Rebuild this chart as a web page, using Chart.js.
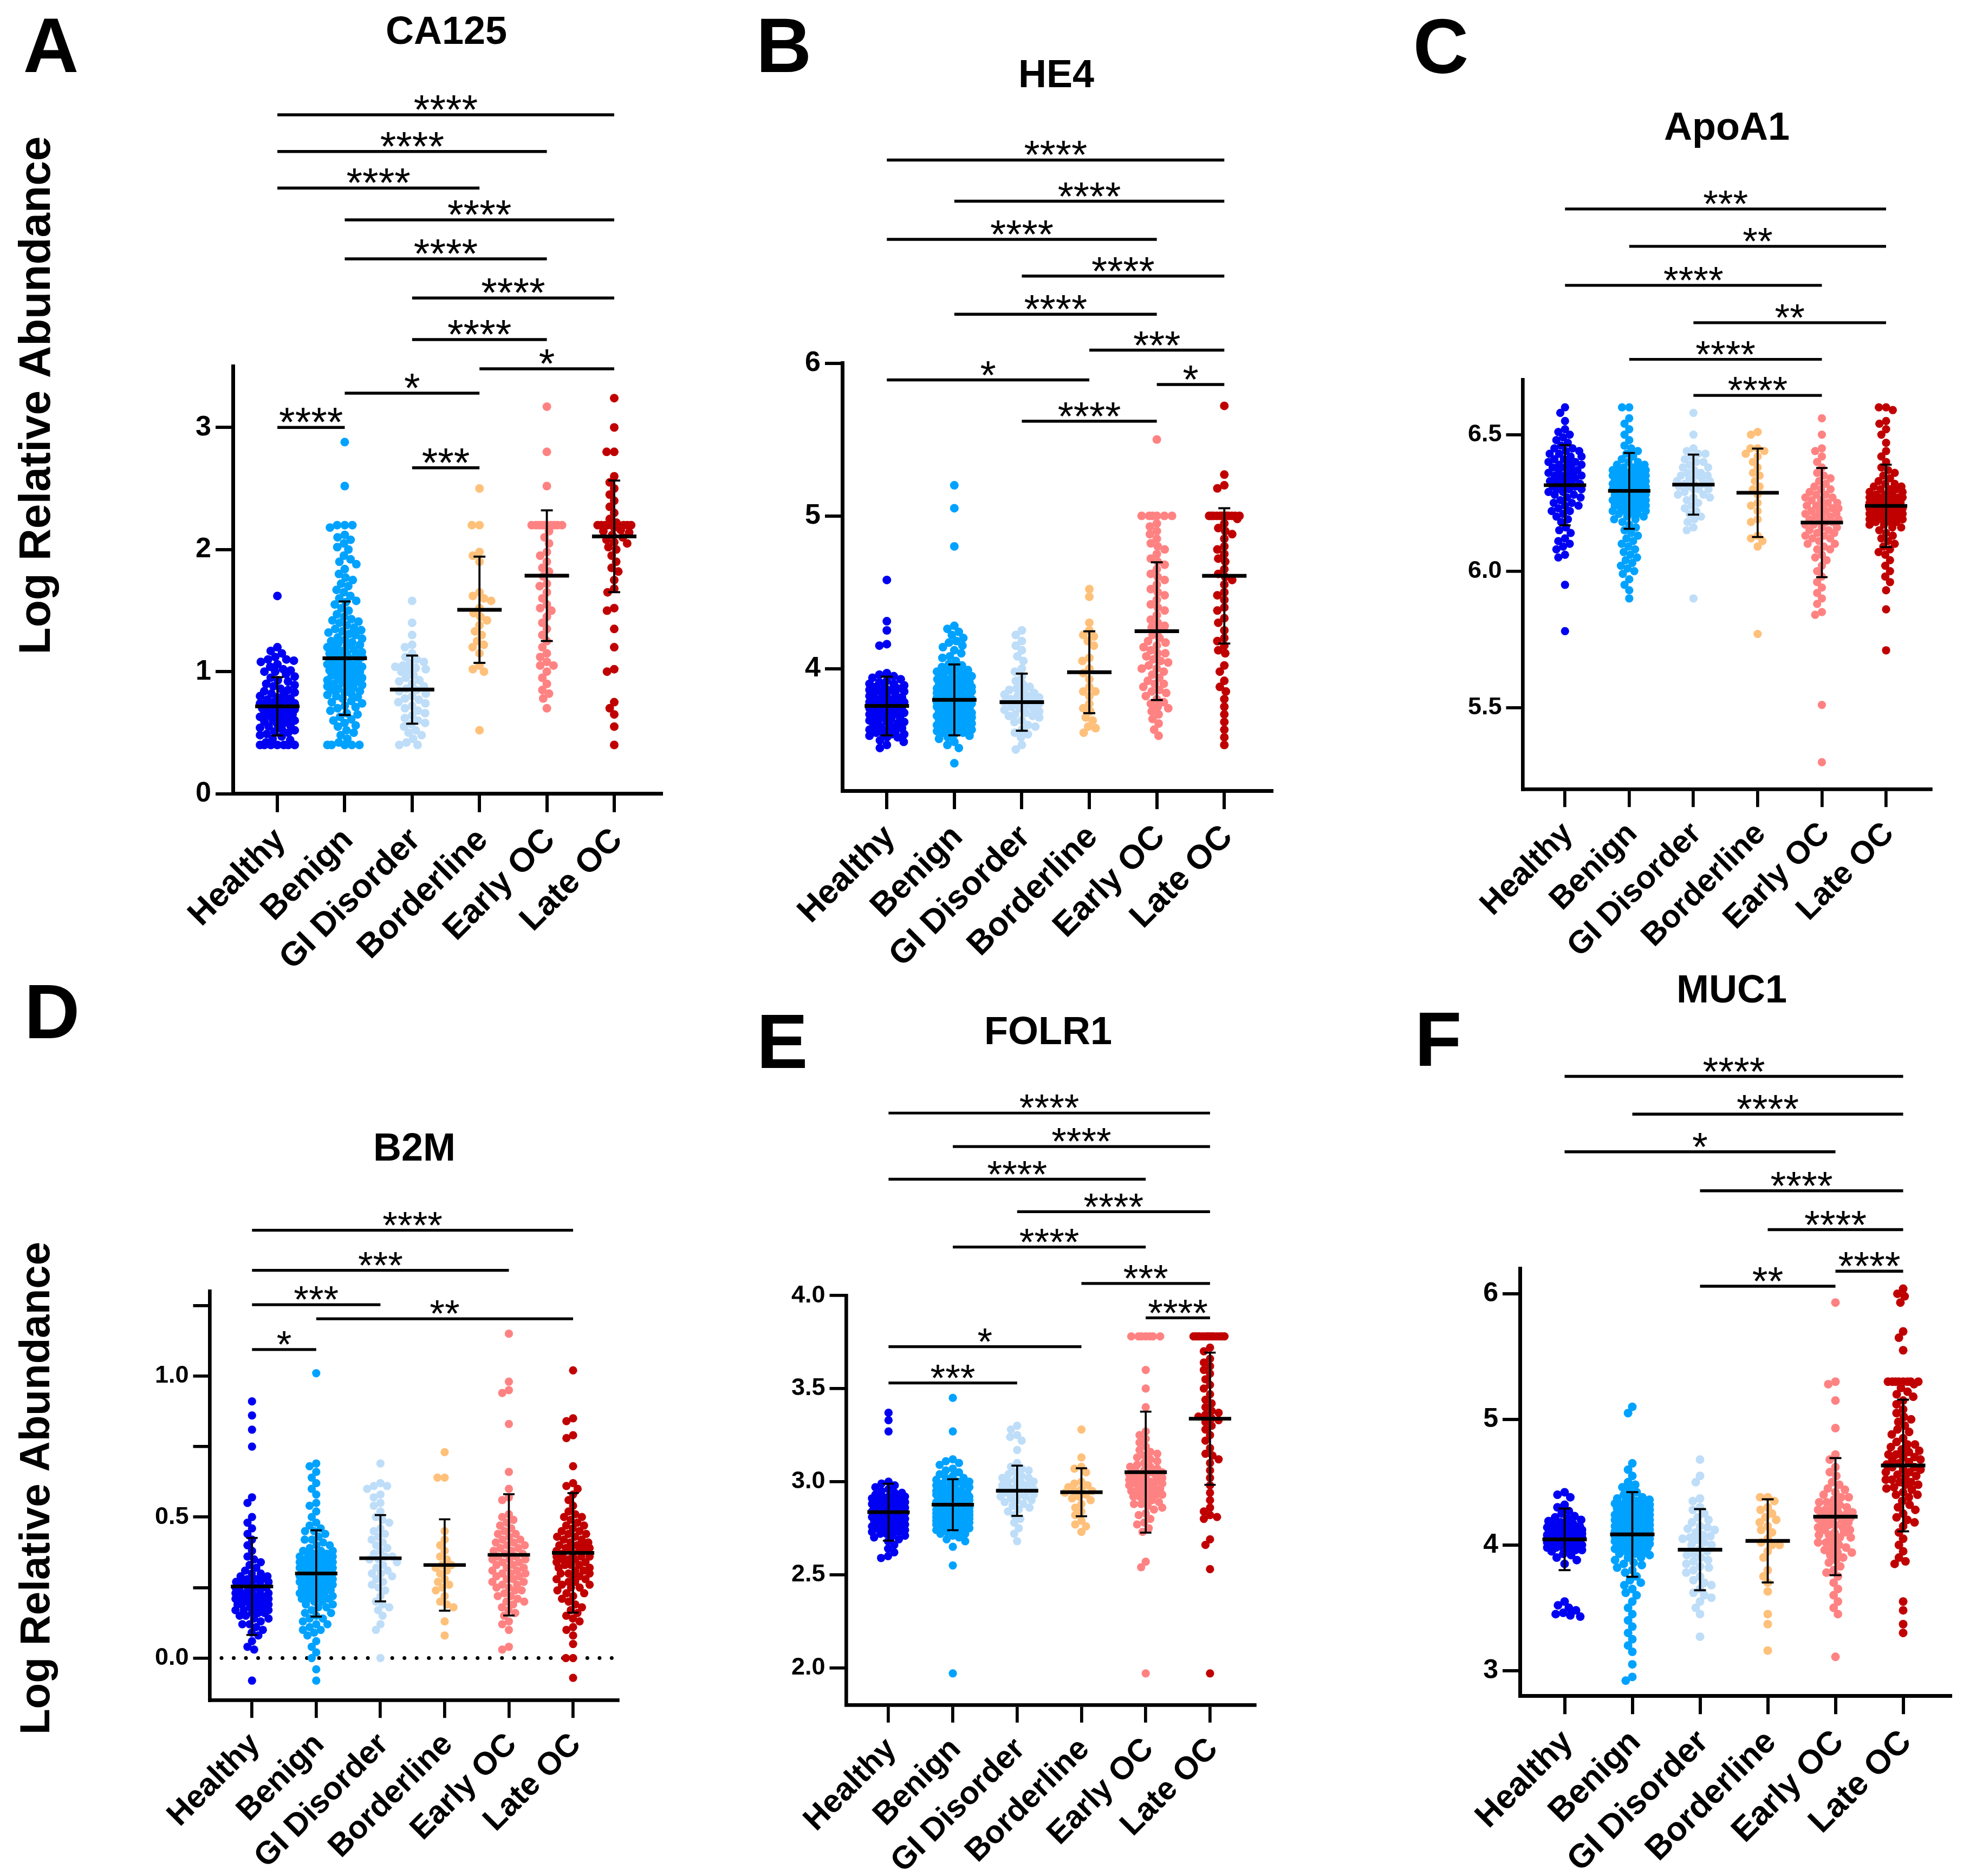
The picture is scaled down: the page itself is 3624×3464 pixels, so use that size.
<!DOCTYPE html>
<html><head><meta charset="utf-8">
<script src="https://cdn.jsdelivr.net/npm/chart.js@4.4.1/dist/chart.umd.min.js"></script>
<style>
html,body{margin:0;padding:0;background:#fff;}
#page{position:relative;width:3624px;height:3464px;background:#fff;overflow:hidden;}
#page canvas{position:absolute;}
</style></head><body><div id="page"></div>
<script>
const categories = ['Healthy','Benign','GI Disorder','Borderline','Early OC','Late OC'];
const groupColors = ['#0000F2','#00A2FF','#BEDDF8','#FFC07A','#FF8282','#C00000'];

// ---------- CA125 ----------
const ca125Healthy = [0.40,0.40,0.40,0.40,0.40,0.40,0.40,0.42,0.44,0.45,0.47,0.48,0.49,0.50,0.51,0.52,0.53,0.54,0.55,0.56,0.57,0.58,0.59,0.60,0.60,0.61,0.62,0.63,0.64,0.65,0.65,0.66,0.67,0.68,0.68,0.69,0.70,0.70,0.71,0.72,0.72,0.73,0.74,0.75,0.76,0.77,0.78,0.79,0.80,0.81,0.82,0.83,0.84,0.85,0.86,0.88,0.89,0.90,0.92,0.93,0.95,0.96,0.98,1.00,1.00,1.01,1.02,1.04,1.06,1.08,1.09,1.10,1.10,1.12,1.15,1.17,1.20,0.74,0.66,1.62];
const ca125Benign = [0.40,0.40,0.40,0.40,0.40,0.42,0.45,0.48,0.50,0.52,0.55,0.56,0.58,0.60,0.61,0.63,0.65,0.66,0.68,0.70,0.71,0.72,0.74,0.75,0.76,0.78,0.79,0.80,0.81,0.82,0.84,0.85,0.86,0.87,0.88,0.89,0.90,0.91,0.92,0.93,0.94,0.95,0.96,0.97,0.98,0.99,1.00,1.01,1.02,1.03,1.04,1.05,1.06,1.07,1.08,1.09,1.10,1.11,1.12,1.13,1.14,1.15,1.16,1.17,1.18,1.19,1.20,1.21,1.22,1.23,1.24,1.25,1.26,1.27,1.28,1.30,1.31,1.32,1.33,1.34,1.35,1.36,1.38,1.40,1.41,1.42,1.43,1.45,1.47,1.50,1.52,1.55,1.57,1.58,1.60,1.62,1.65,1.67,1.70,1.72,1.75,1.77,1.80,1.84,1.88,1.90,1.92,1.95,2.00,2.02,2.05,2.08,2.10,2.12,2.18,2.20,2.20,2.20,2.52,2.88,0.83,0.92,1.00,1.06,1.12,0.95,1.03,0.88,1.15];
const ca125GI = [0.40,0.40,0.42,0.45,0.48,0.50,0.52,0.55,0.57,0.58,0.60,0.62,0.64,0.66,0.68,0.70,0.72,0.74,0.75,0.77,0.78,0.80,0.82,0.84,0.85,0.86,0.88,0.90,0.92,0.93,0.95,0.97,1.00,1.01,1.02,1.03,1.04,1.05,1.07,1.08,1.10,1.12,1.15,1.20,1.22,1.30,1.40,1.58];
const ca125Border = [0.52,1.00,1.02,1.05,1.15,1.20,1.22,1.25,1.30,1.33,1.38,1.42,1.45,1.48,1.52,1.58,1.60,1.62,1.65,1.90,1.95,1.98,2.20,2.20,2.50];
const ca125Early = [0.70,0.78,0.82,0.85,0.90,0.95,1.00,1.05,1.05,1.08,1.12,1.15,1.20,1.25,1.30,1.35,1.40,1.45,1.50,1.52,1.55,1.60,1.65,1.70,1.72,1.78,1.82,1.85,1.90,1.95,1.98,2.05,2.10,2.15,2.20,2.20,2.20,2.20,2.20,2.20,2.20,2.20,2.20,2.20,2.52,2.80,3.17];
const ca125Late = [0.40,0.55,0.65,0.70,0.75,1.00,1.02,1.20,1.35,1.50,1.52,1.65,1.68,1.75,1.82,1.85,1.90,1.95,2.00,2.02,2.05,2.06,2.08,2.10,2.12,2.14,2.15,2.16,2.18,2.20,2.20,2.20,2.20,2.20,2.20,2.20,2.20,2.20,2.22,2.25,2.30,2.35,2.40,2.45,2.50,2.55,2.60,2.80,2.80,3.00,3.24];
const ca125Means = [0.716,1.110,0.853,1.507,1.786,2.108];
const ca125SD = [0.239,0.465,0.279,0.435,0.535,0.457];
const ca125Brackets = [[0,5,5.56,'****'],[0,4,5.26,'****'],[0,3,4.96,'****'],[1,5,4.70,'****'],[1,4,4.38,'****'],[2,5,4.06,'****'],[2,4,3.72,'****'],[3,5,3.48,'*'],[1,3,3.28,'*'],[0,1,3.00,'****'],[2,3,2.67,'***']];
const ca125Ticks = [0,1,2,3];

// ---------- HE4 ----------
const he4Healthy = [3.48,3.50,3.52,3.53,3.55,3.55,3.56,3.57,3.58,3.58,3.59,3.60,3.60,3.61,3.62,3.63,3.64,3.65,3.65,3.66,3.67,3.68,3.68,3.69,3.70,3.70,3.71,3.72,3.72,3.73,3.74,3.74,3.75,3.75,3.76,3.76,3.77,3.78,3.78,3.79,3.80,3.80,3.81,3.82,3.82,3.83,3.84,3.85,3.85,3.86,3.87,3.88,3.88,3.89,3.90,3.90,3.91,3.92,3.93,3.94,3.95,3.96,3.97,3.76,3.74,3.78,3.80,3.72,3.70,3.68,3.66,3.84,3.86,4.15,4.16,4.25,4.31,4.58,3.62,3.57];
const he4Benign = [3.38,3.48,3.50,3.52,3.54,3.55,3.56,3.57,3.58,3.59,3.60,3.60,3.61,3.62,3.62,3.63,3.64,3.64,3.65,3.66,3.66,3.67,3.68,3.68,3.69,3.70,3.70,3.70,3.71,3.72,3.72,3.73,3.73,3.74,3.74,3.75,3.75,3.76,3.76,3.77,3.77,3.78,3.78,3.79,3.79,3.80,3.80,3.80,3.81,3.81,3.82,3.82,3.83,3.83,3.84,3.84,3.85,3.85,3.86,3.86,3.87,3.87,3.88,3.88,3.89,3.90,3.90,3.91,3.92,3.93,3.94,3.95,3.96,3.97,3.98,3.99,4.00,4.01,4.02,4.03,4.05,4.07,4.08,4.10,4.12,4.14,4.15,4.17,4.18,4.20,4.22,4.24,4.26,4.28,4.80,5.05,5.20,3.62,3.65,3.68,3.71,3.74,3.77,3.80,3.83,3.86,3.89,3.92,3.58,3.61,3.64,3.67,3.70,3.73,3.76,3.79,3.82,3.85,3.88,3.91,3.94,3.97,3.59,3.63,3.69,3.75,3.81,3.87,3.93,3.99];
const he4GI = [3.47,3.50,3.55,3.57,3.58,3.60,3.62,3.63,3.65,3.66,3.68,3.69,3.70,3.71,3.72,3.73,3.74,3.75,3.76,3.77,3.78,3.78,3.79,3.80,3.80,3.81,3.82,3.83,3.84,3.85,3.86,3.87,3.88,3.90,3.92,3.95,3.98,4.00,4.05,4.08,4.12,4.15,4.18,4.22,4.25,3.74,3.82,3.69];
const he4Border = [3.58,3.61,3.62,3.66,3.68,3.72,3.74,3.77,3.82,3.85,3.85,3.88,3.93,3.97,4.00,4.05,4.07,4.15,4.18,4.21,4.22,4.25,4.30,4.47,4.52];
const he4Early = [3.56,3.60,3.64,3.67,3.70,3.72,3.74,3.75,3.77,3.80,3.82,3.84,3.85,3.86,3.88,3.90,3.92,3.94,3.96,3.98,4.00,4.02,4.04,4.05,4.06,4.08,4.10,4.12,4.14,4.15,4.17,4.18,4.20,4.22,4.25,4.27,4.30,4.32,4.35,4.38,4.40,4.42,4.45,4.48,4.50,4.52,4.55,4.58,4.60,4.62,4.65,4.68,4.70,4.72,4.75,4.78,4.80,4.82,4.85,4.88,4.90,4.93,4.95,5.00,5.00,5.00,5.00,5.00,5.00,3.78,3.90,4.00,4.10,5.50,4.28];
const he4Late = [3.50,3.55,3.60,3.65,3.70,3.75,3.80,3.85,3.88,3.92,3.98,4.02,4.10,4.12,4.15,4.18,4.20,4.25,4.30,4.33,4.38,4.40,4.45,4.48,4.50,4.55,4.58,4.60,4.62,4.65,4.70,4.72,4.75,4.78,4.80,4.85,4.88,4.90,4.92,4.95,4.98,5.00,5.00,5.00,5.00,5.00,5.00,5.00,5.00,5.00,5.00,5.00,5.00,5.18,5.20,5.27,5.72];
const he4Means = [3.755,3.795,3.780,3.976,4.245,4.607];
const he4SD = [0.192,0.232,0.187,0.268,0.451,0.443];
const he4Brackets = [[0,5,7.33,'****'],[1,5,7.06,'****'],[0,4,6.81,'****'],[2,5,6.57,'****'],[1,4,6.32,'****'],[3,5,6.085,'***'],[0,3,5.89,'*'],[4,5,5.86,'*'],[2,4,5.62,'****']];
const he4Ticks = [4,5,6];

// ---------- ApoA1 ----------
const apoHealthy = [5.78,5.95,6.05,6.06,6.08,6.09,6.10,6.11,6.12,6.14,6.15,6.16,6.18,6.19,6.20,6.21,6.22,6.23,6.24,6.25,6.25,6.26,6.27,6.28,6.28,6.29,6.30,6.30,6.30,6.31,6.31,6.32,6.32,6.33,6.33,6.34,6.34,6.35,6.35,6.36,6.36,6.37,6.37,6.38,6.38,6.39,6.39,6.40,6.40,6.41,6.41,6.42,6.42,6.43,6.43,6.44,6.44,6.45,6.45,6.46,6.47,6.48,6.49,6.50,6.51,6.52,6.55,6.58,6.60,6.33,6.29,6.31,6.35,6.38,6.27,6.24,6.22,6.36,6.40,6.32];
const apoBenign = [5.90,5.93,5.95,5.97,5.99,6.00,6.01,6.02,6.03,6.04,6.05,6.06,6.07,6.08,6.09,6.10,6.11,6.12,6.13,6.14,6.15,6.16,6.17,6.18,6.19,6.20,6.20,6.21,6.21,6.22,6.22,6.23,6.23,6.24,6.24,6.25,6.25,6.26,6.26,6.27,6.27,6.28,6.28,6.29,6.29,6.30,6.30,6.30,6.31,6.31,6.31,6.32,6.32,6.32,6.33,6.33,6.33,6.34,6.34,6.34,6.35,6.35,6.35,6.36,6.36,6.37,6.37,6.38,6.38,6.39,6.39,6.40,6.40,6.41,6.42,6.43,6.44,6.45,6.46,6.48,6.50,6.52,6.54,6.56,6.60,6.60,6.28,6.30,6.32,6.26,6.24,6.34,6.36,6.22,6.29,6.31,6.33,6.27,6.25,6.35,6.38,6.21,6.19,6.37,6.30,6.28,6.32,6.26,6.34,6.23,6.29,6.31,6.27,6.33,6.25,6.35,6.24,6.36,6.22,6.30,6.30,6.28,6.32,6.29,6.31,6.26,6.34,6.27,6.33,6.30];
const apoGI = [5.90,6.15,6.16,6.18,6.19,6.20,6.21,6.22,6.23,6.24,6.25,6.26,6.27,6.28,6.28,6.29,6.30,6.30,6.31,6.31,6.32,6.32,6.33,6.33,6.34,6.34,6.35,6.35,6.36,6.36,6.37,6.38,6.38,6.39,6.40,6.40,6.41,6.42,6.43,6.43,6.44,6.45,6.50,6.58,6.30,6.32,6.27,6.35];
const apoBorder = [5.77,6.09,6.11,6.12,6.13,6.18,6.19,6.22,6.24,6.25,6.28,6.30,6.31,6.33,6.35,6.36,6.38,6.40,6.42,6.43,6.44,6.45,6.45,6.50,6.51];
const apoEarly = [5.30,5.51,5.84,5.85,5.88,5.90,5.92,5.94,5.96,5.98,6.00,6.02,6.04,6.05,6.06,6.08,6.09,6.10,6.11,6.12,6.13,6.14,6.15,6.16,6.17,6.18,6.18,6.19,6.20,6.20,6.21,6.22,6.22,6.23,6.24,6.24,6.25,6.26,6.27,6.28,6.29,6.30,6.30,6.31,6.32,6.33,6.34,6.35,6.36,6.38,6.40,6.42,6.44,6.45,6.50,6.56,6.19,6.21,6.23,6.17,6.15,6.25,6.27,6.13,6.20,6.22,6.18,6.16,6.24,6.26,6.12,6.28,6.10,6.14,6.08];
const apoLate = [5.71,5.86,5.93,5.96,5.98,6.00,6.02,6.04,6.06,6.07,6.08,6.09,6.10,6.11,6.12,6.13,6.14,6.15,6.16,6.17,6.17,6.18,6.18,6.19,6.19,6.20,6.20,6.21,6.21,6.22,6.22,6.23,6.23,6.24,6.24,6.25,6.25,6.26,6.26,6.27,6.27,6.28,6.28,6.29,6.29,6.30,6.30,6.31,6.31,6.32,6.32,6.33,6.34,6.35,6.36,6.37,6.38,6.40,6.42,6.44,6.47,6.50,6.52,6.54,6.55,6.59,6.60,6.60,6.22,6.24,6.26,6.20,6.18,6.28,6.25,6.23,6.21,6.27,6.19,6.30,6.16,6.24,6.22,6.26,6.20,6.25,6.23,6.27,6.21,6.24];
const apoMeans = [6.315,6.294,6.317,6.287,6.178,6.239];
const apoSD = [0.147,0.139,0.110,0.162,0.200,0.151];
const apoBrackets = [[0,5,7.327,'***'],[1,5,7.19,'**'],[0,4,7.047,'****'],[2,5,6.91,'**'],[1,4,6.776,'****'],[2,4,6.644,'****']];
const apoTicks = [5.5,6.0,6.5];

// ---------- B2M ----------
const b2mHealthy = [-0.08,0.03,0.04,0.06,0.08,0.09,0.10,0.11,0.12,0.13,0.14,0.14,0.15,0.15,0.16,0.16,0.17,0.17,0.18,0.18,0.19,0.19,0.20,0.20,0.20,0.21,0.21,0.22,0.22,0.22,0.23,0.23,0.24,0.24,0.25,0.25,0.25,0.26,0.26,0.27,0.27,0.28,0.28,0.29,0.29,0.30,0.30,0.31,0.32,0.33,0.34,0.35,0.36,0.38,0.40,0.42,0.44,0.46,0.48,0.50,0.55,0.57,0.75,0.81,0.86,0.91,0.20,0.22,0.24,0.18,0.16,0.26,0.28,0.12,0.19,0.23,0.21,0.17,0.27,0.25];
const b2mBenign = [-0.08,-0.04,0.00,0.02,0.04,0.06,0.08,0.09,0.10,0.11,0.12,0.13,0.14,0.15,0.16,0.17,0.18,0.19,0.20,0.20,0.21,0.21,0.22,0.22,0.23,0.23,0.24,0.24,0.25,0.25,0.26,0.26,0.27,0.27,0.28,0.28,0.29,0.29,0.30,0.30,0.30,0.31,0.31,0.32,0.32,0.33,0.33,0.34,0.34,0.35,0.35,0.36,0.36,0.37,0.37,0.38,0.38,0.39,0.40,0.41,0.42,0.43,0.44,0.45,0.46,0.48,0.50,0.52,0.54,0.55,0.58,0.60,0.62,0.64,0.66,0.68,0.69,1.01,0.27,0.29,0.31,0.33,0.25,0.23,0.35,0.21,0.37,0.19,0.26,0.28,0.30,0.32,0.24,0.34,0.22,0.36,0.18,0.27,0.29,0.31,0.33,0.25,0.28,0.30,0.32,0.26,0.24,0.34,0.29,0.31,0.27,0.35,0.23,0.33,0.21,0.38,0.14,0.12,0.16,0.10,0.45,0.47,0.40,0.42,0.28,0.30,0.26,0.32,0.29,0.31];
const b2mGI = [0.00,0.10,0.12,0.15,0.17,0.18,0.19,0.20,0.22,0.24,0.25,0.26,0.27,0.28,0.29,0.30,0.31,0.32,0.33,0.34,0.35,0.35,0.36,0.37,0.38,0.39,0.40,0.41,0.42,0.43,0.44,0.45,0.46,0.48,0.49,0.50,0.52,0.54,0.55,0.57,0.58,0.60,0.61,0.61,0.62,0.69,0.30,0.36];
const b2mBorder = [0.08,0.13,0.18,0.19,0.20,0.22,0.24,0.25,0.26,0.27,0.28,0.30,0.31,0.32,0.33,0.35,0.36,0.38,0.40,0.42,0.45,0.64,0.64,0.73,0.33];
const b2mEarly = [0.03,0.04,0.10,0.12,0.13,0.15,0.16,0.17,0.18,0.19,0.20,0.21,0.22,0.23,0.24,0.25,0.26,0.27,0.28,0.29,0.30,0.30,0.31,0.32,0.33,0.34,0.35,0.35,0.36,0.37,0.38,0.39,0.40,0.41,0.42,0.43,0.44,0.45,0.46,0.47,0.48,0.49,0.50,0.51,0.56,0.57,0.60,0.66,0.83,0.94,0.95,0.98,1.15,0.32,0.34,0.36,0.28,0.26,0.38,0.40,0.24,0.22,0.42,0.44,0.20,0.30,0.33,0.37,0.27,0.35,0.29,0.31,0.39,0.25,0.41];
const b2mLate = [-0.07,0.00,0.00,0.05,0.08,0.10,0.11,0.13,0.14,0.15,0.16,0.17,0.18,0.19,0.20,0.21,0.22,0.23,0.24,0.25,0.26,0.27,0.28,0.29,0.30,0.30,0.31,0.32,0.33,0.34,0.35,0.35,0.36,0.37,0.38,0.38,0.39,0.40,0.40,0.41,0.42,0.43,0.44,0.45,0.46,0.47,0.48,0.49,0.50,0.50,0.51,0.52,0.54,0.56,0.58,0.60,0.61,0.62,0.68,0.78,0.79,0.84,0.85,1.02,0.33,0.35,0.37,0.31,0.29,0.39,0.41,0.27,0.43,0.25,0.45,0.23,0.47,0.36,0.34,0.38,0.32,0.40,0.30,0.42,0.28,0.44,0.26,0.36,0.33,0.39];
const b2mMeans = [0.254,0.300,0.354,0.330,0.366,0.373];
const b2mSD = [0.172,0.153,0.153,0.162,0.215,0.212];
const b2mBrackets = [[0,5,1.517,'****'],[0,4,1.375,'***'],[0,2,1.253,'***'],[1,5,1.203,'**'],[0,1,1.094,'*']];
const b2mTicks = [0,0.25,0.5,0.75,1.0,1.25];

// ---------- FOLR1 ----------
const folrHealthy = [2.59,2.60,2.62,2.64,2.66,2.68,2.69,2.70,2.71,2.72,2.72,2.73,2.74,2.74,2.75,2.76,2.76,2.77,2.78,2.78,2.79,2.79,2.80,2.80,2.81,2.81,2.82,2.82,2.83,2.83,2.84,2.84,2.85,2.85,2.86,2.86,2.87,2.87,2.88,2.88,2.89,2.89,2.90,2.90,2.91,2.91,2.92,2.92,2.93,2.94,2.95,2.96,2.97,2.98,2.99,3.00,3.27,3.33,3.37,2.80,2.82,2.84,2.86,2.78,2.76,2.88,2.74,2.90,2.81,2.83,2.85,2.79,2.77,2.87,2.75,2.89,2.73,2.71,2.92,2.94];
const folrBenign = [1.97,2.55,2.65,2.68,2.70,2.72,2.73,2.74,2.75,2.76,2.77,2.77,2.78,2.78,2.79,2.79,2.80,2.80,2.81,2.81,2.82,2.82,2.83,2.83,2.84,2.84,2.85,2.85,2.86,2.86,2.87,2.87,2.88,2.88,2.89,2.89,2.90,2.90,2.91,2.91,2.92,2.92,2.93,2.93,2.94,2.94,2.95,2.95,2.96,2.97,2.98,2.99,3.00,3.01,3.02,3.03,3.05,3.07,3.09,3.10,3.11,3.12,3.27,3.45,2.80,2.82,2.84,2.86,2.88,2.90,2.78,2.76,2.92,2.94,2.81,2.83,2.85,2.87,2.89,2.91,2.79,2.93,2.77,2.95,2.80,2.84,2.88,2.92,2.82,2.86,2.90,2.78,2.94,2.83,2.87,2.91,2.85,2.89,2.81,2.75,2.96,2.98,2.74,3.00,2.72,2.88,2.86,2.84,2.90,2.82,2.92,2.80,2.94,2.79,2.97,2.77,2.99,2.76,3.02,2.73,3.04,2.71,3.06,2.69,2.87,2.85,2.89,2.83,2.91,2.81];
const folrGI = [2.68,2.72,2.75,2.78,2.80,2.82,2.84,2.85,2.86,2.87,2.88,2.89,2.90,2.91,2.92,2.92,2.93,2.94,2.94,2.95,2.95,2.96,2.96,2.97,2.97,2.98,2.99,3.00,3.00,3.01,3.02,3.03,3.04,3.05,3.06,3.07,3.08,3.10,3.17,3.22,3.24,3.25,3.28,3.30,2.93,2.98,2.90,3.02];
const folrBorder = [2.73,2.76,2.77,2.79,2.82,2.84,2.86,2.88,2.90,2.91,2.92,2.93,2.94,2.95,2.96,2.97,2.98,2.99,3.00,3.05,3.07,3.08,3.13,3.28,2.95];
const folrEarly = [1.97,2.54,2.57,2.73,2.75,2.77,2.80,2.83,2.85,2.87,2.88,2.89,2.90,2.91,2.92,2.93,2.94,2.95,2.96,2.97,2.98,2.99,3.00,3.00,3.01,3.02,3.03,3.04,3.05,3.06,3.07,3.08,3.09,3.10,3.11,3.12,3.13,3.15,3.17,3.19,3.21,3.23,3.25,3.27,3.40,3.50,3.60,3.78,3.78,3.78,3.78,3.78,3.78,3.78,2.95,2.98,3.02,3.05,2.92,2.88,3.08,2.86,3.00,2.94,3.04,2.82,2.78,3.14,3.16,2.99,3.01,2.97,3.03,2.93,3.06];
const folrLate = [1.97,2.53,2.66,2.69,2.80,2.81,2.82,2.84,2.86,2.90,2.94,2.98,3.02,3.06,3.10,3.12,3.14,3.15,3.18,3.22,3.25,3.28,3.30,3.32,3.33,3.34,3.35,3.36,3.37,3.38,3.40,3.42,3.44,3.47,3.50,3.52,3.55,3.58,3.60,3.62,3.64,3.66,3.70,3.72,3.78,3.78,3.78,3.78,3.78,3.78,3.78,3.78,3.78,3.78,3.78,3.78,3.78,3.78];
const folrMeans = [2.836,2.876,2.951,2.943,3.051,3.338];
const folrSD = [0.153,0.137,0.135,0.129,0.325,0.355];
const folrBrackets = [[0,5,4.98,'****'],[1,5,4.80,'****'],[0,4,4.625,'****'],[2,5,4.45,'****'],[1,4,4.26,'****'],[3,5,4.065,'***'],[4,5,3.88,'****'],[0,3,3.725,'*'],[0,2,3.53,'***']];
const folrTicks = [2.0,2.5,3.0,3.5,4.0];

// ---------- MUC1 ----------
const muc1Healthy = [3.43,3.44,3.45,3.46,3.48,3.50,3.52,3.55,3.85,3.88,3.90,3.92,3.93,3.95,3.96,3.97,3.98,3.99,4.00,4.00,4.01,4.02,4.02,4.03,4.03,4.04,4.04,4.05,4.05,4.06,4.06,4.07,4.07,4.08,4.08,4.09,4.09,4.10,4.10,4.11,4.11,4.12,4.12,4.13,4.14,4.15,4.16,4.17,4.18,4.19,4.20,4.21,4.22,4.23,4.25,4.27,4.30,4.32,4.38,4.40,4.42,4.05,4.07,4.03,4.09,4.01,4.11,4.06,4.08,4.04,4.10,4.02,4.12,3.98,4.14,4.00,4.13,3.96,4.16,4.06];
const muc1Benign = [2.92,2.95,3.05,3.15,3.20,3.25,3.30,3.35,3.40,3.45,3.50,3.55,3.60,3.62,3.65,3.68,3.70,3.72,3.75,3.78,3.80,3.82,3.84,3.86,3.88,3.90,3.92,3.93,3.94,3.95,3.96,3.97,3.98,3.99,4.00,4.00,4.01,4.02,4.03,4.04,4.05,4.06,4.07,4.08,4.09,4.10,4.10,4.11,4.12,4.13,4.14,4.15,4.16,4.17,4.18,4.19,4.20,4.20,4.21,4.22,4.23,4.24,4.25,4.26,4.27,4.28,4.29,4.30,4.31,4.32,4.33,4.34,4.35,4.36,4.38,4.40,4.42,4.44,4.46,4.48,4.50,4.55,4.60,4.65,5.05,5.10,4.05,4.10,4.15,4.20,4.25,4.00,3.95,4.30,3.90,4.35,4.08,4.12,4.18,4.22,4.02,3.98,4.28,4.32,3.85,4.38,4.06,4.14,4.24,4.04,4.16,4.26,4.09,4.19,4.29,3.99,4.11,4.21,4.31,4.01,4.13,4.23,4.33,3.97,4.07,4.17,4.27,4.37,3.93,4.03];
const muc1GI = [3.27,3.45,3.50,3.55,3.58,3.60,3.62,3.65,3.68,3.70,3.72,3.75,3.78,3.80,3.82,3.85,3.87,3.90,3.92,3.95,3.97,4.00,4.02,4.04,4.05,4.06,4.08,4.10,4.12,4.14,4.15,4.18,4.20,4.22,4.25,4.28,4.30,4.35,4.37,4.50,4.55,4.68,3.88,4.00,3.93,4.07,3.83,4.13];
const muc1Border = [3.16,3.37,3.45,3.63,3.70,3.75,3.80,3.90,3.95,4.00,4.00,4.05,4.10,4.15,4.18,4.20,4.22,4.25,4.28,4.30,4.35,4.38,4.38,4.12,4.02];
const muc1Early = [3.11,3.45,3.50,3.55,3.60,3.65,3.70,3.75,3.78,3.80,3.83,3.86,3.88,3.90,3.92,3.94,3.96,3.98,4.00,4.02,4.04,4.06,4.08,4.10,4.12,4.14,4.16,4.18,4.20,4.21,4.22,4.23,4.24,4.25,4.26,4.28,4.30,4.32,4.34,4.36,4.38,4.40,4.42,4.45,4.48,4.50,4.55,4.58,4.62,4.68,4.72,4.93,5.15,5.28,5.30,5.93,4.20,4.18,4.26,4.22,4.14,4.30,4.10,4.34,4.06,4.24,4.16,4.28,4.12,4.02,3.98,4.38,4.44,3.94,4.08];
const muc1Late = [3.30,3.37,3.48,3.55,3.85,3.87,3.90,3.95,4.00,4.05,4.10,4.15,4.18,4.20,4.22,4.25,4.28,4.30,4.32,4.35,4.38,4.40,4.42,4.44,4.46,4.48,4.50,4.52,4.54,4.56,4.58,4.60,4.62,4.64,4.66,4.68,4.70,4.72,4.74,4.76,4.78,4.80,4.82,4.85,4.88,4.90,4.92,4.95,4.98,5.00,5.02,5.05,5.08,5.12,5.15,5.18,5.20,5.22,5.25,5.28,5.30,5.30,5.30,5.30,5.30,5.30,5.30,5.30,5.55,5.65,5.70,5.93,5.98,6.00,6.04,4.60,4.65,4.55,4.70,4.50,4.75,4.45,4.80,4.40,4.62,4.58,4.68,4.52,4.72,4.48];
const muc1Means = [4.045,4.084,3.963,4.033,4.226,4.633];
const muc1SD = [0.245,0.337,0.323,0.331,0.466,0.524];
const muc1Brackets = [[0,5,7.73,'****'],[1,5,7.43,'****'],[0,4,7.13,'*'],[2,5,6.82,'****'],[3,5,6.51,'****'],[4,5,6.18,'****'],[2,4,6.06,'**']];
const muc1Ticks = [3,4,5,6];

// ---------- layout (page pixels) ----------
const FONT = "'Liberation Sans', Arial, Helvetica, sans-serif";
const panels = [
  {letter:'A', title:'CA125', values:[ca125Healthy,ca125Benign,ca125GI,ca125Border,ca125Early,ca125Late], means:ca125Means, sds:ca125SD, brackets:ca125Brackets, ticks:ca125Ticks, dec:0,
   cell:[0,0,1240,1830], L:430, R:1221, T:676.5, B:1465.7, yMin:0, yMax:3.5, s:1.0, tickFont:52, starFont:76, xFont:62,
   titlePos:[824,59], letterPos:[94,90], yTitle:[65,730,82]},
  {letter:'B', title:'HE4', values:[he4Healthy,he4Benign,he4GI,he4Border,he4Early,he4Late], means:he4Means, sds:he4SD, brackets:he4Brackets, ticks:he4Ticks, dec:0,
   cell:[1240,0,1200,1830], L:1555, R:2347.5, T:670.5, B:1460.1, yMin:3.2, yMax:6.0, s:1.0, tickFont:52, starFont:75, xFont:62,
   titlePos:[1950,139], letterPos:[1447,90]},
  {letter:'C', title:'ApoA1', values:[apoHealthy,apoBenign,apoGI,apoBorder,apoEarly,apoLate], means:apoMeans, sds:apoSD, brackets:apoBrackets, ticks:apoTicks, dec:1,
   cell:[2440,0,1184,1830], L:2811, R:3565, T:701.8, B:1457.8, yMin:5.2, yMax:6.7, s:0.953, tickFont:45, starFont:71, xFont:59,
   titlePos:[3188,236], letterPos:[2660,92]},
  {letter:'D', title:'B2M', values:[b2mHealthy,b2mBenign,b2mGI,b2mBorder,b2mEarly,b2mLate], means:b2mMeans, sds:b2mSD, brackets:b2mBrackets, ticks:b2mTicks, dec:1, halfOnly:true, zeroLine:true,
   cell:[0,1760,1240,1704], L:387, R:1141, T:2384.6, B:3139.7, yMin:-0.15, yMax:1.3, s:0.953, tickFont:45, starFont:71, xFont:59,
   titlePos:[765,2121], letterPos:[96,1874], yTitle:[65,2748,78]},
  {letter:'E', title:'FOLR1', values:[folrHealthy,folrBenign,folrGI,folrBorder,folrEarly,folrLate], means:folrMeans, sds:folrSD, brackets:folrBrackets, ticks:folrTicks, dec:1,
   cell:[1240,1760,1200,1704], L:1562, R:2317, T:2392.1, B:3148.3, yMin:1.8, yMax:4.0, s:0.953, tickFont:45, starFont:71, xFont:59,
   titlePos:[1935,1906], letterPos:[1444,1929]},
  {letter:'F', title:'MUC1', values:[muc1Healthy,muc1Benign,muc1GI,muc1Border,muc1Early,muc1Late], means:muc1Means, sds:muc1SD, brackets:muc1Brackets, ticks:muc1Ticks, dec:0,
   cell:[2440,1760,1184,1704], L:2806, R:3601, T:2342.5, B:3131.2, yMin:2.8, yMax:6.2, s:1.0, tickFont:50, starFont:74, xFont:62,
   titlePos:[3197,1829], letterPos:[2655,1925]}
];
const X_MIN = -0.66, X_MAX = 5.70, YW = 150, XH = 60;

function line(ctx, x1, y1, x2, y2) { ctx.beginPath(); ctx.moveTo(x1, y1); ctx.lineTo(x2, y2); ctx.stroke(); }

function makeDeco(p) {
  const ox = p.cell[0], oy = p.cell[1], s = p.s;
  return {
    id: 'deco' + p.letter,
    beforeDatasetsDraw(chart) {
      if (!p.zeroLine) return;
      const ctx = chart.ctx, ys = chart.scales.y, a = chart.chartArea;
      const y0 = ys.getPixelForValue(0);
      ctx.save();
      ctx.strokeStyle = '#000'; ctx.lineWidth = 7; ctx.lineCap = 'round';
      ctx.setLineDash([0.01, 22.5]);
      line(ctx, a.left + 22, y0, a.right - 4, y0);
      ctx.restore();
    },
    afterDatasetsDraw(chart) {
      const ctx = chart.ctx, xs = chart.scales.x, ys = chart.scales.y, a = chart.chartArea;
      ctx.save();
      ctx.strokeStyle = '#000'; ctx.fillStyle = '#000'; ctx.lineCap = 'butt';
      // mean +/- SD
      p.means.forEach((m, i) => {
        const x = xs.getPixelForValue(i);
        const yt = ys.getPixelForValue(m + p.sds[i]);
        const yb = ys.getPixelForValue(m - p.sds[i]);
        const ym = ys.getPixelForValue(m);
        ctx.lineWidth = 3.8 * s;
        line(ctx, x, yt, x, yb);
        line(ctx, x - 11 * s, yt, x + 11 * s, yt);
        line(ctx, x - 11 * s, yb, x + 11 * s, yb);
        ctx.lineWidth = 7 * s;
        line(ctx, x - 41 * s, ym, x + 41 * s, ym);
      });
      // significance brackets
      ctx.font = `${p.starFont}px ${FONT}`;
      ctx.textAlign = 'center'; ctx.textBaseline = 'alphabetic';
      p.brackets.forEach(([g1, g2, v, lab]) => {
        const x1 = xs.getPixelForValue(g1), x2 = xs.getPixelForValue(g2), y = ys.getPixelForValue(v);
        ctx.lineWidth = 5.5 * s;
        line(ctx, x1, y, x2, y);
        ctx.fillText(lab, (x1 + x2) / 2, y + 16 * s);
      });
      // category labels (rotated)
      ctx.font = `bold ${p.xFont}px ${FONT}`;
      ctx.textAlign = 'right'; ctx.textBaseline = 'middle';
      categories.forEach((c, i) => {
        const x = xs.getPixelForValue(i);
        ctx.save();
        ctx.translate(x + 6 * s, a.bottom + 76 * s);
        ctx.rotate(-Math.PI / 4);
        ctx.fillText(c, 0, 0);
        ctx.restore();
      });
      // title
      ctx.textAlign = 'center'; ctx.textBaseline = 'middle';
      ctx.font = `bold 72px ${FONT}`;
      ctx.fillText(p.title, p.titlePos[0] - ox, p.titlePos[1] - oy + 2);
      // panel letter
      ctx.font = `bold 142px ${FONT}`;
      ctx.fillText(p.letter, p.letterPos[0] - ox, p.letterPos[1] - oy + 4);
      // y axis title
      if (p.yTitle) {
        ctx.save();
        ctx.translate(p.yTitle[0] - ox, p.yTitle[1] - oy);
        ctx.rotate(-Math.PI / 2);
        ctx.font = `bold ${p.yTitle[2]}px ${FONT}`;
        ctx.fillText('Log Relative Abundance', 0, 4);
        ctx.restore();
      }
      ctx.restore();
    }
  };
}

// beeswarm layout with a maximum half-width (points overlap beyond it, as in Prism)
function swarm(py, d, maxHalf) {
  const order = py.map((y, i) => i).sort((a, b) => py[a] - py[b]);
  const placed = [], out = new Array(py.length).fill(0);
  for (const i of order) {
    const y = py[i];
    const near = placed.filter(q => Math.abs(q.y - y) < d);
    const cands = [0];
    for (const q of near) {
      const dx = Math.sqrt(d * d - (q.y - y) * (q.y - y));
      cands.push(q.x + dx, q.x - dx);
    }
    cands.sort((u, v) => Math.abs(u) - Math.abs(v) || u - v);
    let best = null;
    for (const c of cands) {
      if (Math.abs(c) > maxHalf + 1e-6) continue;
      if (near.every(q => (q.x - c) * (q.x - c) + (q.y - y) * (q.y - y) >= d * d - 0.01)) { best = c; break; }
    }
    if (best === null) {
      let bestScore = -1;
      const steps = 16;
      for (let k = 0; k <= steps; k++) {
        const c = -maxHalf + 2 * maxHalf * k / steps;
        let md = Infinity;
        for (const q of near) md = Math.min(md, (q.x - c) * (q.x - c) + (q.y - y) * (q.y - y));
        if (md > bestScore + 1e-6 || (Math.abs(md - bestScore) <= 1e-6 && Math.abs(c) < Math.abs(best))) { bestScore = md; best = c; }
      }
    }
    placed.push({x: best, y});
    out[i] = best;
  }
  return out;
}

const page = document.getElementById('page');
panels.forEach(p => {
  const [cx, cy, cw, ch] = p.cell;
  const cv = document.createElement('canvas');
  cv.width = cw; cv.height = ch;
  cv.style.left = cx + 'px'; cv.style.top = cy + 'px';
  cv.style.width = cw + 'px'; cv.style.height = ch + 'px';
  page.appendChild(cv);
  const r = 8 * p.s;
  const lw = 7 * p.s;
  const chart = new Chart(cv.getContext('2d'), {
    type: 'scatter',
    data: {
      datasets: p.values.map((vals, gi) => ({
        label: categories[gi],
        data: vals.map(v => ({x: gi, y: v})),
        backgroundColor: groupColors[gi],
        borderWidth: 0,
        pointRadius: r,
        pointHoverRadius: r
      }))
    },
    options: {
      responsive: false, animation: false, devicePixelRatio: 1,
      events: [],
      layout: {padding: {left: p.L - cx - YW, right: cx + cw - p.R, top: p.T - cy, bottom: cy + ch - p.B - XH}},
      plugins: {legend: {display: false}, tooltip: {enabled: false}, title: {display: false}},
      scales: {
        x: {
          type: 'linear', min: X_MIN, max: X_MAX,
          afterFit: sc => { sc.height = XH; },
          afterBuildTicks: sc => { sc.ticks = categories.map((c, i) => ({value: i})); },
          ticks: {display: false},
          grid: {display: true, drawOnChartArea: false, drawTicks: true, tickLength: 34 * p.s, lineWidth: 6 * p.s, color: '#000'},
          border: {display: true, width: lw, color: '#000'}
        },
        y: {
          type: 'linear', min: p.yMin, max: p.yMax,
          afterFit: sc => { sc.width = YW; },
          afterBuildTicks: sc => { sc.ticks = p.ticks.map(v => ({value: v})); },
          ticks: {
            autoSkip: false, color: '#000', padding: 8,
            font: {family: FONT, weight: 'bold', size: p.tickFont},
            callback: v => {
              if (p.halfOnly && Math.abs(v * 2 - Math.round(v * 2)) > 1e-6) return '';
              return Number(v).toFixed(p.dec);
            }
          },
          grid: {display: true, drawOnChartArea: false, drawTicks: true, tickLength: 32 * p.s, lineWidth: 6 * p.s, color: '#000'},
          border: {display: true, width: lw, color: '#000'}
        }
      }
    },
    plugins: [makeDeco(p)]
  });
  // beeswarm horizontal offsets computed from the chart's own scales
  const xs = chart.scales.x, ys = chart.scales.y;
  const pxu = xs.getPixelForValue(1) - xs.getPixelForValue(0);
  chart.data.datasets.forEach((ds, gi) => {
    const vals = p.values[gi];
    const off = swarm(vals.map(v => ys.getPixelForValue(v)), r * 1.75, 32 * p.s);
    ds.data = vals.map((v, i) => ({x: gi + off[i] / pxu, y: v}));
  });
  chart.update('none');
});
</script>
</body></html>
